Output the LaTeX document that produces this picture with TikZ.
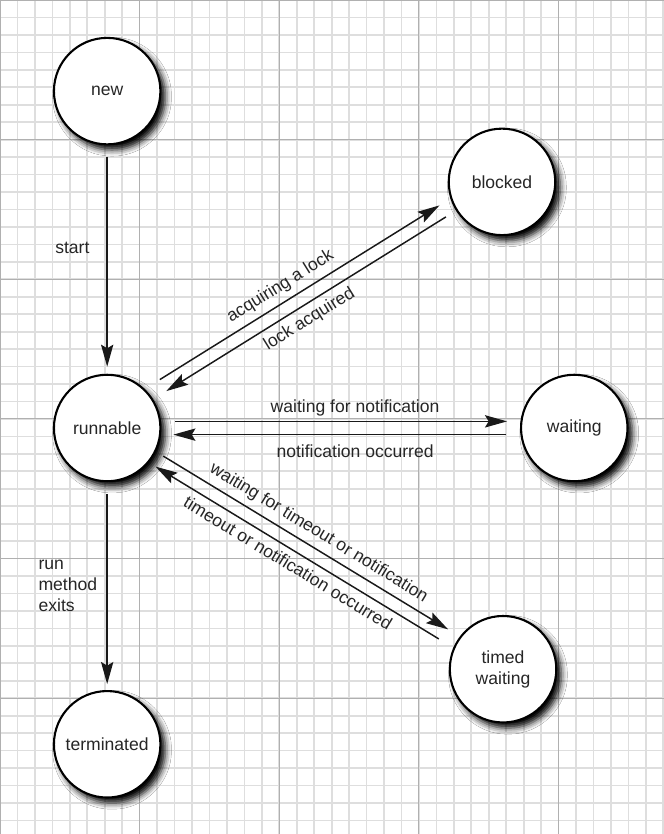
\documentclass[tikz,border=0pt]{standalone}
\usepackage{fontspec}
\setmainfont{Liberation Sans}
\usetikzlibrary{arrows.meta,calc,shadows.blur}

\begin{document}
\begin{tikzpicture}[
        font=\fontsize{14.3}{17}\selectfont,
        >={Stealth[length=18pt, width=10pt, inset=3pt]},
        state/.style ={circle, draw, line width=1.7pt, fill=white, text=black!85,
                       minimum size=3.05cm, inner sep=0pt, align=center,
                       blur shadow={shadow xshift=4pt, shadow yshift=-4.5pt,
                                    shadow blur radius=5pt, shadow blur extra rounding=1pt,
                                    shadow opacity=100}},
        tr/.style    ={->, line width=1.2pt, black!90},
        lbl/.style   ={text=black!85},
        minorgrid/.style={gray!26, line width=1.4pt},
        majorgrid/.style={gray!62, line width=0.8pt},
    ]
    \useasboundingbox (0,0) rectangle (19.02,-23.89);
    \fill[white] (0,0) rectangle (19.02,-23.89);

    % ===================== Graph paper =====================
    \draw[minorgrid, step=0.5] (0,-23.89) grid (19.02,0);
    \draw[majorgrid, step=4] (0,-23.89) grid (19.02,0);

    % ===================== Thread states =====================
    \node[state] (new)        at (3.07,-2.61)   {new};
    \node[state] (runnable)   at (3.07,-12.26)  {runnable};
    \node[state] (terminated) at (3.07,-21.32)  {terminated};
    \node[state] (blocked)    at (14.38,-5.21)  {blocked};
    \node[state] (waiting)    at (16.45,-12.26) {waiting};
    \node[state] (timed)      at (14.41,-19.17) {timed\\waiting};

    % ===================== Transitions =====================
    \draw[tr, shorten <=0.32cm, shorten >=0.2cm] (new) -- (runnable)
        node[lbl, pos=0.45, left=0.37cm] {start};
    \draw[tr, shorten <=0.34cm, shorten >=0.17cm] (runnable) -- (terminated)
        node[lbl, midway, left=0.15cm, align=left] {run\\method\\exits};

    % runnable <-> blocked
    \draw[tr, shorten <=0.46cm, shorten >=0.32cm]
        ([shift={(-0.2,0.32)}]runnable.32) -- ([shift={(-0.2,0.32)}]blocked.212)
        node[lbl, pos=0.47, above=0.06cm, sloped] {acquiring a lock};
    \draw[tr, shorten <=0.34cm, shorten >=0.44cm] (blocked.212) -- (runnable.32)
        node[lbl, pos=0.51, below=0.06cm, sloped] {lock acquired};

    % runnable <-> waiting
    \draw[tr, shorten <=0.4cm, shorten >=0.37cm]
        ([yshift=0.19cm]runnable.east) -- ([yshift=0.19cm]waiting.west)
        node[lbl, pos=0.54, above] {waiting for notification};
    \draw[tr, shorten <=0.4cm, shorten >=0.34cm]
        ([yshift=-0.19cm]waiting.west) -- ([yshift=-0.19cm]runnable.east)
        node[lbl, pos=0.46, below=0.15cm] {notification occurred};

    % runnable <-> timed waiting
    \draw[tr, shorten <=0.24cm, shorten >=0.38cm]
        ([shift={(0.07,0.12)}]runnable.-31.3) -- ([shift={(0.07,0.12)}]timed.148.7)
        node[lbl, pos=0.51, above=0.06cm, sloped] {waiting for timeout or notification};
    \draw[tr, shorten <=0.47cm, shorten >=0.2cm]
        ([shift={(-0.12,-0.2)}]timed.148.7) -- ([shift={(-0.12,-0.2)}]runnable.-31.3)
        node[lbl, pos=0.52, below=0.06cm, sloped] {timeout or notification occurred};
\end{tikzpicture}
\end{document}
